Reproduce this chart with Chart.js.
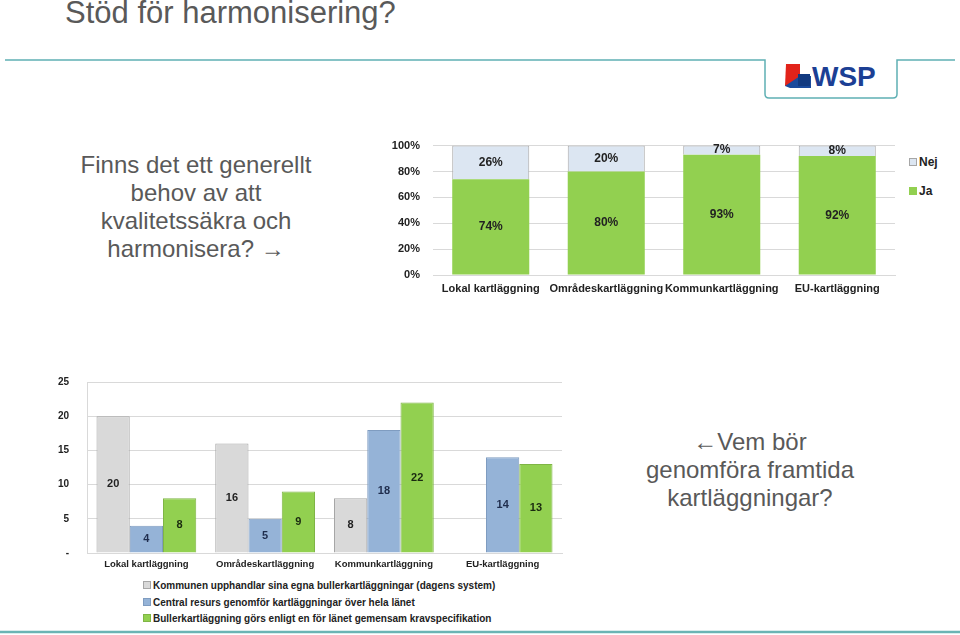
<!DOCTYPE html>
<html>
<head>
<meta charset="utf-8">
<script src="https://cdn.jsdelivr.net/npm/chart.js@4"></script>
<style>
  body { margin: 0; width: 960px; height: 635px; background: #fff; position: relative; overflow: hidden; font-family: "Liberation Sans", Arial, sans-serif; }
  .abs { position: absolute; }
  #title { left: 65px; top: -5px; font-size: 31px; color: #595959; }
  .side { font-size: 24px; color: #595959; text-align: center; line-height: 28px; }
  #q1 { left: 62px; top: 151px; width: 268px; }
  #q2 { left: 620px; top: 428px; width: 260px; }
  .leg { font-size: 10px; font-weight: bold; color: #222; white-space: nowrap; }
  .leg span.box { display: inline-block; width: 6px; height: 6px; margin-right: 2px; border: 1px solid #a6a6a6; vertical-align: 0px; }
</style>
</head>
<body>
<div id="title" class="abs">Stöd för harmonisering?</div>

<svg class="abs" style="left:0;top:0" width="960" height="635">
  <path d="M5 60 H765 V94 Q765 98 769 98 H893 Q897 98 897 94 V60 H955" fill="none" stroke="#5fb0b4" stroke-width="1.5"/>
  <polygon points="786,64 800,64 800,78 790,86 785,86" fill="#e2231a"/>
  <polygon points="785,86 800,76 811,76 811,88 790,88" fill="#1a4a9c"/>
  <polygon points="798,74 810,74 810,86 798,86" fill="#123a80"/>
  <text x="812" y="86" font-family="Liberation Sans, Arial" font-weight="bold" font-size="28" fill="#1c3f94">WSP</text>
  <line x1="0" y1="632" x2="960" y2="632" stroke="#6ab4b4" stroke-width="2.5"/>
</svg>

<div id="q1" class="abs side">Finns det ett generellt<br>behov av att<br>kvalitetssäkra och<br>harmonisera? &rarr;</div>
<div id="q2" class="abs side">&larr;Vem bör<br>genomföra framtida<br>kartläggningar?</div>

<div class="abs" style="left:380px;top:126px;width:520px;height:176px"><canvas id="chart1"></canvas></div>
<div class="abs" style="left:40px;top:358px;width:530px;height:219px"><canvas id="chart2"></canvas></div>

<div id="legend1" class="abs leg" style="left:909px;top:155px;font-size:12px"></div>
<div id="legend2" class="abs leg" style="left:143px;top:580px"></div>

<script>
// top chart
const categories1 = ['Lokal kartläggning', 'Områdeskartläggning', 'Kommunkartläggning', 'EU-kartläggning'];
const jaValues = [74, 80, 93, 92];
const nejValues = [26, 20, 7, 8];

// bottom chart
const categories2 = ['Lokal kartläggning', 'Områdeskartläggning', 'Kommunkartläggning', 'EU-kartläggning'];
const kommunenValues = [20, 16, 8, null];
const centralValues = [4, 5, 18, 14];
const kravspecValues = [8, 9, 22, 13];
const seriesNames2 = [
  'Kommunen upphandlar sina egna bullerkartläggningar (dagens system)',
  'Central resurs genomför kartläggningar över hela länet',
  'Bullerkartläggning görs enligt en för länet gemensam kravspecifikation'
];

Chart.defaults.font.family = '"Liberation Sans", Arial, sans-serif';
Chart.defaults.color = '#222';

// labels in the middle of each bar
const barLabels = {
  id: 'barLabels',
  afterDatasetsDraw(chart, args, opts) {
    const ctx = chart.ctx;
    ctx.save();
    ctx.font = 'bold ' + opts.size + 'px "Liberation Sans", Arial, sans-serif';
    ctx.textAlign = 'center';
    ctx.textBaseline = 'middle';
    chart.data.datasets.forEach((ds, i) => {
      const meta = chart.getDatasetMeta(i);
      meta.data.forEach((bar, j) => {
        const v = ds.data[j];
        if (v == null) return;
        ctx.fillStyle = ds.labelColor || '#222';
        ctx.fillText(v + (opts.suffix || ''), bar.x, (bar.y + bar.base) / 2);
      });
    });
    ctx.restore();
  }
};

new Chart(document.getElementById('chart1'), {
  type: 'bar',
  data: {
    labels: categories1,
    datasets: [
      { label: 'Ja', data: jaValues, backgroundColor: '#92d050', borderColor: '#92d050', borderWidth: 0 },
      { label: 'Nej', data: nejValues, backgroundColor: '#dce6f2', borderColor: '#a6a6a6', borderWidth: 1 }
    ]
  },
  options: {
    responsive: true,
    maintainAspectRatio: false,
    animation: false,
    categoryPercentage: 0.667,
    barPercentage: 1,
    layout: { padding: { top: 0, right: 5, left: 0, bottom: 0 } },
    plugins: {
      legend: { display: false },
      tooltip: { enabled: false },
      barLabels: { size: 12, suffix: '%' }
    },
    scales: {
      x: {
        stacked: true,
        grid: { display: false, drawTicks: false },
        border: { color: '#d9d9d9' },
        ticks: { autoSkip: false, maxRotation: 0, minRotation: 0, padding: 7, font: { size: 11, weight: 'bold' } },
        afterFit: s => { s.height = 27; }
      },
      y: {
        stacked: true,
        min: 0, max: 100,
        grid: { color: '#d9d9d9', drawTicks: false },
        border: { display: false },
        ticks: { stepSize: 20, padding: 13, font: { size: 11, weight: 'bold' }, callback: v => v + '%' },
        afterFit: s => { s.width = 53; }
      }
    }
  },
  plugins: [barLabels]
});

new Chart(document.getElementById('chart2'), {
  type: 'bar',
  data: {
    labels: categories2,
    datasets: [
      { label: seriesNames2[0], data: kommunenValues, backgroundColor: '#d9d9d9', borderColor: '#a6a6a6', borderWidth: 1 },
      { label: seriesNames2[1], data: centralValues, backgroundColor: '#95b3d7', borderColor: '#7f9cc0', borderWidth: 1, labelColor: '#1f2d4d' },
      { label: seriesNames2[2], data: kravspecValues, backgroundColor: '#92d050', borderColor: '#7fb545', borderWidth: 1, labelColor: '#1a2a10' }
    ]
  },
  options: {
    responsive: true,
    maintainAspectRatio: false,
    animation: false,
    categoryPercentage: 0.84,
    barPercentage: 1,
    layout: { padding: { top: 0, right: 8, left: 0, bottom: 0 } },
    plugins: {
      legend: { display: false },
      tooltip: { enabled: false },
      barLabels: { size: 11 }
    },
    scales: {
      x: {
        grid: { display: false, drawTicks: false },
        border: { color: '#d9d9d9' },
        ticks: { autoSkip: false, maxRotation: 0, minRotation: 0, padding: 6, font: { size: 9.5, weight: 'bold' } },
        afterFit: s => { s.height = 20; }
      },
      y: {
        min: 0, max: 25,
        grid: { color: '#d9d9d9', drawTicks: false },
        border: { color: '#d9d9d9' },
        ticks: { stepSize: 5, padding: 18, font: { size: 10, weight: 'bold' }, callback: v => v === 0 ? '-' : v },
        afterFit: s => { s.width = 47; }
      }
    }
  },
  plugins: [barLabels]
});

// legends
const leg1 = [['Nej', '#dce6f2', '#a6a6a6'], ['Ja', '#92d050', '#92d050']];
document.getElementById('legend1').innerHTML = leg1.map(l =>
  '<div style="height:29px"><span class="box" style="background:' + l[1] + ';border-color:' + l[2] + '"></span>' + l[0] + '</div>').join('');
const legColors2 = [['#d9d9d9', '#a6a6a6'], ['#95b3d7', '#7f9cc0'], ['#92d050', '#7fb545']];
document.getElementById('legend2').innerHTML = seriesNames2.map((n, i) =>
  '<div style="height:16.5px"><span class="box" style="background:' + legColors2[i][0] + ';border-color:' + legColors2[i][1] + '"></span>' + n + '</div>').join('');
</script>
</body>
</html>
